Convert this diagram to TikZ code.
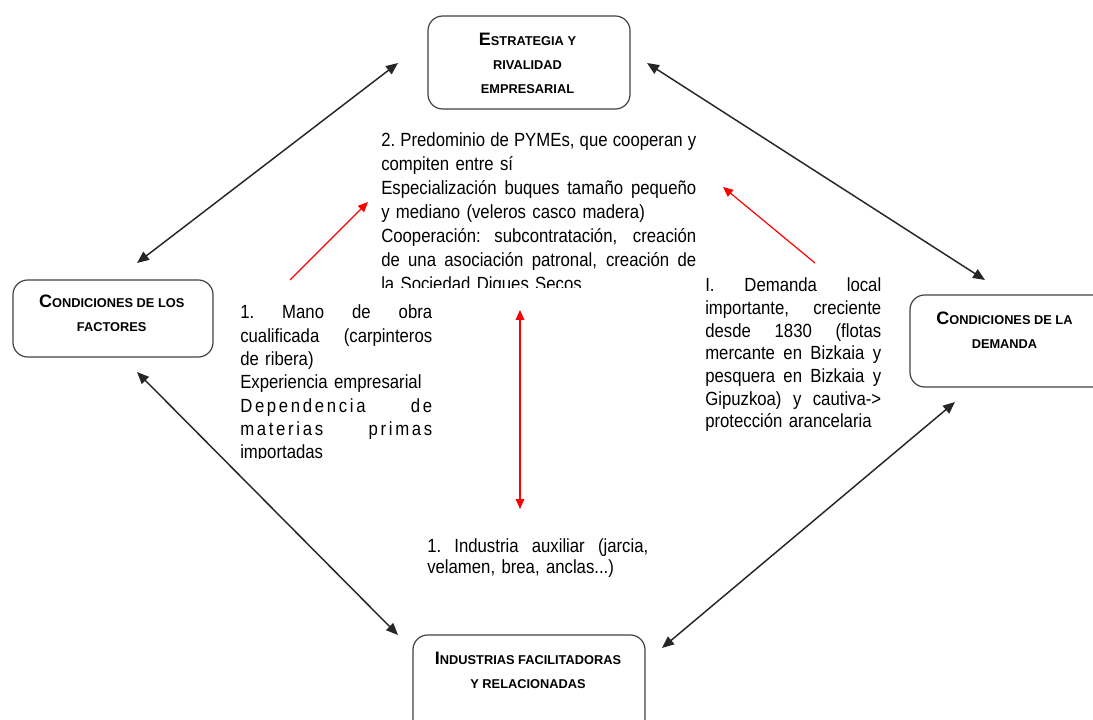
\documentclass[tikz,border=0pt]{standalone}
\usepackage{fontspec}
\setmainfont{Liberation Sans}
\newfontfamily\bodyfont{Liberation Sans}[FakeStretch=0.878]
\usetikzlibrary{arrows.meta}

% large initial capital followed by small capitals
\newcommand\sct[2]{{\fontsize{13.5}{18.4}\selectfont #1}#2}
% a line stretched to a given measure
\newcommand\just[2]{\leavevmode\hbox to #1{\spaceskip=0.278em plus 3em minus 0.06em\xspaceskip=\spaceskip #2}}
% a letter-spaced line whose two words sit at both ends of the measure
\newcommand\spread[3]{\leavevmode\hbox to #1{\addfontfeature{LetterSpace=14}#2\hfill#3}}

\begin{document}
\begin{tikzpicture}[x=0.75pt, y=-0.75pt,
  box/.style={draw=black!75, line width=0.9pt, rounded corners=11pt, inner sep=0pt},
  title/.style={font=\bfseries\fontsize{9.6}{18.1}\selectfont, align=center, inner sep=0pt, anchor=base},
  body/.style={inner sep=0pt, anchor=base west, align=left},
  link/.style={{Triangle[length=9pt,width=7.5pt]}-{Triangle[length=9pt,width=7.5pt]}, line width=1.1pt, black!85},
  redlink/.style={-{Triangle[length=7.5pt,width=6.5pt]}, line width=0.9pt, red},
  redboth/.style={{Triangle[length=7.5pt,width=6.5pt]}-{Triangle[length=7.5pt,width=6.5pt]}, line width=0.9pt, red}]
\useasboundingbox (0,0) rectangle (1093,720);

% the four boxes of the diamond
\node[box, minimum width=202*0.75pt, minimum height=93*0.75pt] (est) at (529,62.5) {};
\node[box, minimum width=200*0.75pt, minimum height=77*0.75pt] (fac) at (113,318.5) {};
\node[box, minimum width=200*0.75pt, minimum height=92*0.75pt] (dem) at (1010,341) {};
\node[box, minimum width=232*0.75pt, minimum height=105*0.75pt] (ind) at (529,687.5) {};

% box titles (anchored at the baseline of their last line)
\node[title] (estT) at (527.5,93.3) {\sct{E}{STRATEGIA Y}\\RIVALIDAD\\EMPRESARIAL};
\node[title] (facT) at (111.7,331.7) {\sct{C}{ONDICIONES DE LOS}\\FACTORES};
\node[title] (demT) at (1004.5,348.3) {\sct{C}{ONDICIONES DE LA}\\DEMANDA};
\node[title] (indT) at (528,688.3) {\sct{I}{NDUSTRIAS FACILITADORAS}\\Y RELACIONADAS};

% explanatory texts
\begin{scope}
  \clip (370,120) rectangle (712,288);
  \node[body, text width=236.25pt, font=\bodyfont\fontsize{14.3}{17.9}\selectfont] (pymes) at (381,147)
    {\just{236.25pt}{2. Predominio de PYMEs, que cooperan y}\\
     compiten entre sí\\
     \just{236.25pt}{Especialización buques tamaño pequeño}\\
     y mediano (veleros casco madera)\\
     \just{236.25pt}{Cooperación: subcontratación, creación}\\
     \just{236.25pt}{de una asociación patronal, creación de}\\
     la Sociedad Digues Secos};
\end{scope}
\begin{scope}
  \clip (232,295) rectangle (440,458);
  \node[body, text width=144pt, font=\bodyfont\fontsize{14.3}{17.5}\selectfont] (mano) at (240,319)
    {\just{144pt}{1. Mano de obra}\\
     \just{144pt}{cualificada (carpinteros}\\
     de ribera)\\
     Experiencia empresarial\\
     \spread{144pt}{Dependencia}{de}\\
     \spread{144pt}{materias}{primas}\\
     importadas};
\end{scope}
\node[body, text width=132pt, font=\bodyfont\fontsize{14.3}{17}\selectfont] (local) at (705,291.7)
  {\just{132pt}{I. Demanda local}\\
   \just{132pt}{importante, creciente}\\
   \just{132pt}{desde 1830 (flotas}\\
   \just{132pt}{mercante en Bizkaia y}\\
   \just{132pt}{pesquera en Bizkaia y}\\
   \just{132pt}{Gipuzkoa) y cautiva->}\\
   protección arancelaria};
\node[body, text width=165.75pt, font=\bodyfont\fontsize{14.3}{16.2}\selectfont] (aux) at (427,552)
  {\just{165.75pt}{1. Industria auxiliar (jarcia,}\\
   velamen, brea, anclas...)};

% ends of the connectors
\coordinate (facN) at (137,263);
\coordinate (estW) at (398,63);
\coordinate (estE) at (647,63);
\coordinate (demN) at (985,280);
\coordinate (facS) at (137,372);
\coordinate (indW) at (398,635);
\coordinate (demS) at (955,402);
\coordinate (indE) at (662,648);
\coordinate (manoTail) at (290,280);
\coordinate (pymesL) at (368,202);
\coordinate (localTail) at (815,263);
\coordinate (pymesR) at (723,187);
\coordinate (pymesB) at (520,310);
\coordinate (auxT) at (520,509);

% links between the determinants
\draw[link] (facN) -- (estW);
\draw[link] (estE) -- (demN);
\draw[link] (facS) -- (indW);
\draw[link] (demS) -- (indE);

% influences on the rivalry
\draw[redlink] (manoTail) -- (pymesL);
\draw[redlink] (localTail) -- (pymesR);
\draw[redboth] (pymesB) -- (auxT);
\end{tikzpicture}
\end{document}
